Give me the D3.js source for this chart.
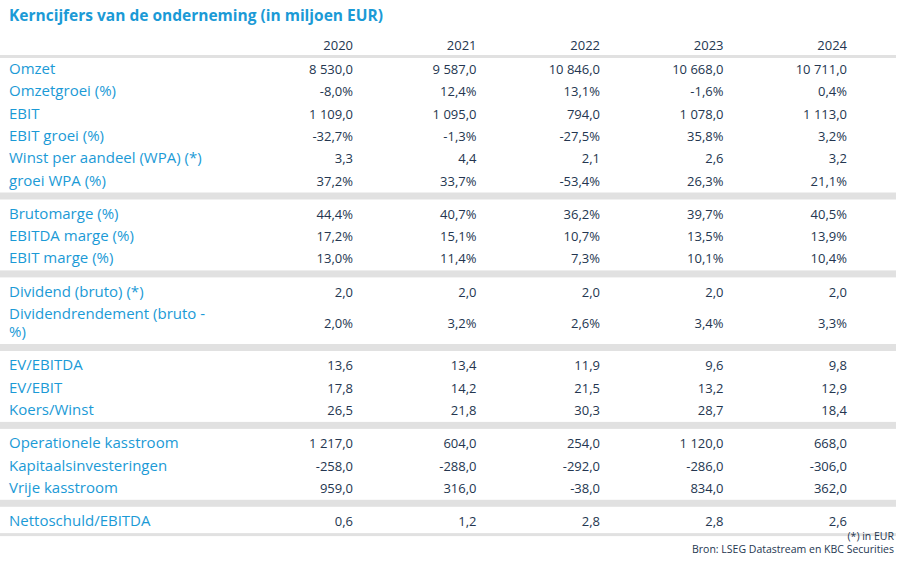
<!DOCTYPE html>
<html><head><meta charset="utf-8">
<script src="https://cdn.jsdelivr.net/npm/d3@7"></script>
<style>body{margin:0;background:#fff}svg{font-family:"Open Sans",sans-serif}</style>
</head><body><svg id="c" width="912" height="565"></svg>
<script>
const years = ['2020', '2021', '2022', '2023', '2024'];
const groups = [
  [
    ['Omzet', ['8 530,0', '9 587,0', '10 846,0', '10 668,0', '10 711,0']],
    ['Omzetgroei (%)', ['-8,0%', '12,4%', '13,1%', '-1,6%', '0,4%']],
    ['EBIT', ['1 109,0', '1 095,0', '794,0', '1 078,0', '1 113,0']],
    ['EBIT groei (%)', ['-32,7%', '-1,3%', '-27,5%', '35,8%', '3,2%']],
    ['Winst per aandeel (WPA) (*)', ['3,3', '4,4', '2,1', '2,6', '3,2']],
    ['groei WPA (%)', ['37,2%', '33,7%', '-53,4%', '26,3%', '21,1%']],
  ],
  [
    ['Brutomarge (%)', ['44,4%', '40,7%', '36,2%', '39,7%', '40,5%']],
    ['EBITDA marge (%)', ['17,2%', '15,1%', '10,7%', '13,5%', '13,9%']],
    ['EBIT marge (%)', ['13,0%', '11,4%', '7,3%', '10,1%', '10,4%']],
  ],
  [
    ['Dividend (bruto) (*)', ['2,0', '2,0', '2,0', '2,0', '2,0']],
    ['Dividendrendement (bruto -|%)', ['2,0%', '3,2%', '2,6%', '3,4%', '3,3%']],
  ],
  [
    ['EV/EBITDA', ['13,6', '13,4', '11,9', '9,6', '9,8']],
    ['EV/EBIT', ['17,8', '14,2', '21,5', '13,2', '12,9']],
    ['Koers/Winst', ['26,5', '21,8', '30,3', '28,7', '18,4']],
  ],
  [
    ['Operationele kasstroom', ['1 217,0', '604,0', '254,0', '1 120,0', '668,0']],
    ['Kapitaalsinvesteringen', ['-258,0', '-288,0', '-292,0', '-286,0', '-306,0']],
    ['Vrije kasstroom', ['959,0', '316,0', '-38,0', '834,0', '362,0']],
  ],
  [
    ['Nettoschuld/EBITDA', ['0,6', '1,2', '2,8', '2,8', '2,6']],
  ],
];

const blue = '#1b9ad6', dark = '#243650', grey = '#e1e1e1';
const svg = d3.select('#c');
const x = d3.scalePoint().domain(years).range([353, 847]);

svg.append('text').attr('x', 9).attr('y', 21).attr('fill', blue)
  .attr('font-size', 15.5).attr('font-weight', 700)
  .text('Kerncijfers van de onderneming (in miljoen EUR)');

svg.selectAll('.yr').data(years).join('text')
  .attr('x', d => x(d)).attr('y', 50).attr('text-anchor', 'end')
  .attr('fill', dark).attr('font-size', 13).text(d => d);

svg.append('rect').attr('x', 0).attr('y', 55).attr('width', 896).attr('height', 3).attr('fill', grey);

let y = 74;
groups.forEach((g, gi) => {
  g.forEach(([label, vals]) => {
    const lines = label.split('|');
    const h = lines.length * 18 + 4.3;
    const mid = y + (lines.length - 1) * 9;
    const t = svg.append('text').attr('fill', blue).attr('font-size', 15);
    lines.forEach((l, li) => t.append('tspan').attr('x', 9).attr('y', y + li * 18).text(l));
    svg.selectAll(null).data(vals).join('text')
      .attr('x', (d, i) => x(years[i])).attr('y', mid).attr('text-anchor', 'end')
      .attr('fill', dark).attr('font-size', 13).text(d => d);
    y += h;
  });
  const last = gi === groups.length - 1;
  const by = y - 15.3;
  svg.append('rect').attr('x', 0).attr('y', by).attr('width', 896)
    .attr('height', last ? 3 : 7).attr('fill', grey);
  y += 11;
});

['(*) in EUR', 'Bron: LSEG Datastream en KBC Securities'].forEach((s, i) =>
  svg.append('text').attr('x', 894).attr('y', 540 + i * 13).attr('text-anchor', 'end')
    .attr('fill', dark).attr('font-size', 10.5).text(s));
</script></body></html>
